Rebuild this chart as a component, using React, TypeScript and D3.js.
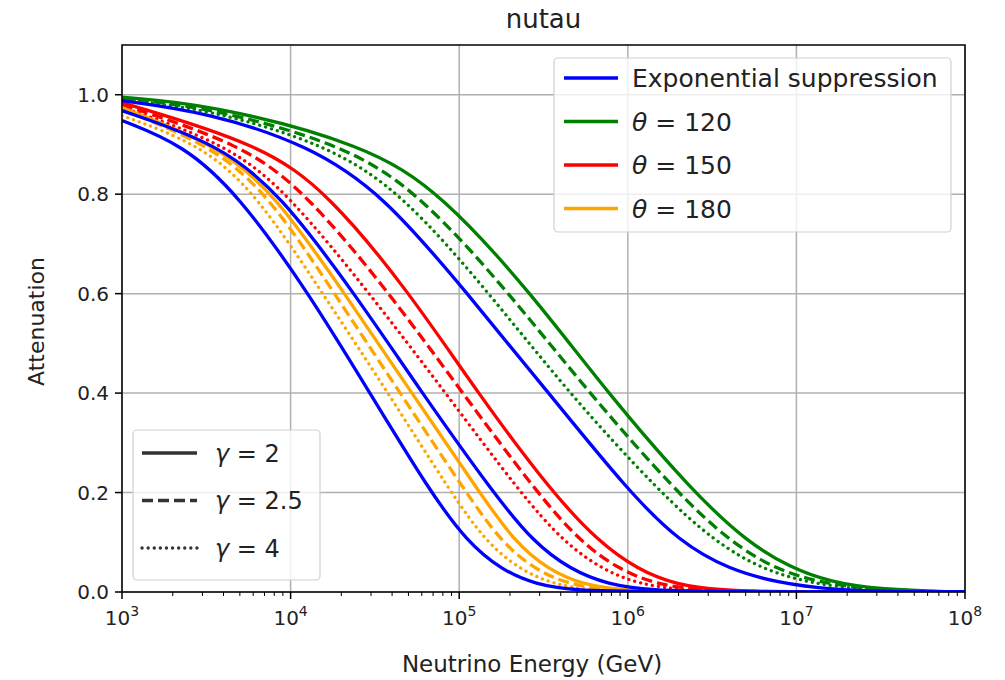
import React from 'react'
import * as d3 from 'd3'

// readings: [log10(E / GeV), attenuation]
const expSup180 = [[3, 0.948], [3.36, 0.9], [3.69, 0.8], [4.11, 0.6], [4.47, 0.4], [4.83, 0.2], [5.05, 0.1], [5.25, 0.045], [5.45, 0.015], [5.7, 0.003], [6.0, 0], [8, 0]]
const expSup150 = [[3, 0.968], [3.58, 0.9], [3.94, 0.8], [4.38, 0.6], [4.78, 0.4], [5.2, 0.2], [5.44, 0.1], [5.66, 0.045], [5.88, 0.015], [6.15, 0.003], [6.5, 0], [8, 0]]
const expSup120 = [[3, 0.988], [3.5, 0.965], [4.1, 0.9], [4.55, 0.8], [5.05, 0.6], [5.53, 0.4], [6.01, 0.2], [6.31, 0.1], [6.6, 0.045], [6.9, 0.018], [7.2, 0.005], [7.6, 0], [8, 0]]

const th120g2 = [[3, 0.995], [3.5, 0.982], [4.45, 0.9], [4.9, 0.8], [5.43, 0.6], [5.88, 0.4], [6.39, 0.2], [6.71, 0.1], [6.96, 0.05], [7.2, 0.02], [7.5, 0.005], [7.95, 0], [8, 0]]
const th120g25 = [[3, 0.992], [3.5, 0.976], [4.32, 0.9], [4.77, 0.8], [5.3, 0.6], [5.77, 0.4], [6.29, 0.2], [6.61, 0.1], [6.88, 0.045], [7.15, 0.018], [7.45, 0.005], [7.9, 0], [8, 0]]
const th120g4 = [[3, 0.99], [3.5, 0.972], [4.22, 0.9], [4.67, 0.8], [5.18, 0.6], [5.65, 0.4], [6.19, 0.2], [6.52, 0.1], [6.8, 0.045], [7.08, 0.018], [7.38, 0.005], [7.8, 0], [8, 0]]

const th150g2 = [[3, 0.984], [3.83, 0.9], [4.23, 0.8], [4.71, 0.6], [5.11, 0.4], [5.55, 0.2], [5.83, 0.1], [6.06, 0.045], [6.28, 0.015], [6.56, 0.003], [6.9, 0], [8, 0]]
const th150g25 = [[3, 0.98], [3.72, 0.9], [4.1, 0.8], [4.59, 0.6], [5.02, 0.4], [5.46, 0.2], [5.72, 0.1], [5.95, 0.045], [6.17, 0.015], [6.45, 0.003], [6.8, 0], [8, 0]]
const th150g4 = [[3, 0.975], [3.63, 0.9], [3.99, 0.8], [4.47, 0.6], [4.92, 0.4], [5.36, 0.2], [5.62, 0.1], [5.85, 0.045], [6.07, 0.015], [6.35, 0.003], [6.7, 0], [8, 0]]

const th180g2 = [[3, 0.974], [3.56, 0.9], [3.91, 0.8], [4.32, 0.6], [4.72, 0.4], [5.12, 0.2], [5.33, 0.1], [5.53, 0.045], [5.73, 0.015], [5.98, 0.003], [6.3, 0], [8, 0]]
const th180g25 = [[3, 0.97], [3.52, 0.9], [3.87, 0.8], [4.26, 0.6], [4.65, 0.4], [5.04, 0.2], [5.25, 0.1], [5.45, 0.045], [5.65, 0.015], [5.9, 0.003], [6.2, 0], [8, 0]]
const th180g4 = [[3, 0.958], [3.47, 0.9], [3.8, 0.8], [4.19, 0.6], [4.58, 0.4], [4.95, 0.2], [5.16, 0.1], [5.36, 0.045], [5.56, 0.015], [5.8, 0.003], [6.1, 0], [8, 0]]

const xTickExps = [3, 4, 5, 6, 7, 8]
const yTicks = [0, 0.2, 0.4, 0.6, 0.8, 1.0]
const thetaLabels = ['120', '150', '180']
const gammaLabels = ['2', '2.5', '4']

const colors = { exp: '#0000ff', t120: '#008000', t150: '#ff0000', t180: '#ffa500' }
const dashes = { solid: null, dashed: '11,5', dotted: '0.1,6' }

const series = [
  { data: th120g2, color: colors.t120, dash: dashes.solid },
  { data: th120g25, color: colors.t120, dash: dashes.dashed },
  { data: th120g4, color: colors.t120, dash: dashes.dotted },
  { data: th150g2, color: colors.t150, dash: dashes.solid },
  { data: th150g25, color: colors.t150, dash: dashes.dashed },
  { data: th150g4, color: colors.t150, dash: dashes.dotted },
  { data: th180g2, color: colors.t180, dash: dashes.solid },
  { data: th180g25, color: colors.t180, dash: dashes.dashed },
  { data: th180g4, color: colors.t180, dash: dashes.dotted },
  { data: expSup120, color: colors.exp, dash: dashes.solid },
  { data: expSup150, color: colors.exp, dash: dashes.solid },
  { data: expSup180, color: colors.exp, dash: dashes.solid },
]

const W = 1005, H = 680
const m = { left: 122, right: 965, top: 45, bottom: 592 }
const font = 'DejaVu Sans, sans-serif'
const LW = 3.3

export default function App() {
  const x = d3.scaleLog().domain([1e3, 1e8]).range([m.left, m.right])
  const y = d3.scaleLinear().domain([0, 1.1]).range([m.bottom, m.top])

  const line = d3.line<number[]>()
    .x(d => x(10 ** d[0]))
    .y(d => y(d[1]))
    .curve(d3.curveBasis)

  const minorTicks: number[] = []
  for (let e = 3; e < 8; e++) for (let k = 2; k <= 9; k++) minorTicks.push(k * 10 ** e)

  const legend1 = [
    { label: 'Exponential suppression', color: colors.exp },
    ...thetaLabels.map((t, i) => ({ label: t, color: [colors.t120, colors.t150, colors.t180][i], theta: true })),
  ]

  return (
    <svg width={W} height={H} style={{ position: 'absolute', left: 0, top: 0 }} fontFamily={font}>
      <defs>
        <clipPath id="plot">
          <rect x={m.left} y={m.top} width={m.right - m.left} height={m.bottom - m.top} />
        </clipPath>
      </defs>
      <rect width={W} height={H} fill="#fff" />

      {/* grid */}
      {xTickExps.map(e => (
        <line key={'gx' + e} x1={x(10 ** e)} x2={x(10 ** e)} y1={m.top} y2={m.bottom} stroke="#b0b0b0" strokeWidth={1.5} />
      ))}
      {yTicks.map(v => (
        <line key={'gy' + v} x1={m.left} x2={m.right} y1={y(v)} y2={y(v)} stroke="#b0b0b0" strokeWidth={1.5} />
      ))}

      {/* curves */}
      <g clipPath="url(#plot)">
        {series.map((s, i) => (
          <path key={i} d={line(s.data) || ''} fill="none" stroke={s.color} strokeWidth={LW}
            strokeDasharray={s.dash || undefined} strokeLinecap={s.dash === dashes.dotted ? 'round' : 'butt'} />
        ))}
      </g>

      {/* frame */}
      <rect x={m.left} y={m.top} width={m.right - m.left} height={m.bottom - m.top} fill="none" stroke="#000" strokeWidth={1.5} />

      {/* x ticks */}
      {xTickExps.map(e => (
        <g key={'xt' + e} transform={`translate(${x(10 ** e)},${m.bottom})`}>
          <line y2={7} stroke="#000" strokeWidth={1.5} />
          <text y={33} textAnchor="middle" fontSize={20} fill="#222">
            10<tspan dy={-9} fontSize={14}>{e}</tspan>
          </text>
        </g>
      ))}
      {minorTicks.map(v => (
        <line key={'mx' + v} x1={x(v)} x2={x(v)} y1={m.bottom} y2={m.bottom + 4} stroke="#000" strokeWidth={1} />
      ))}

      {/* y ticks */}
      {yTicks.map(v => (
        <g key={'yt' + v} transform={`translate(${m.left},${y(v)})`}>
          <line x2={-7} stroke="#000" strokeWidth={1.5} />
          <text x={-13} dy="0.35em" textAnchor="end" fontSize={20} fill="#222">{v.toFixed(1)}</text>
        </g>
      ))}

      {/* labels */}
      <text x={(m.left + m.right) / 2} y={28} textAnchor="middle" fontSize={26} fill="#222">nutau</text>
      <text x={532} y={672} textAnchor="middle" fontSize={23} fill="#222">Neutrino Energy (GeV)</text>
      <text transform={`translate(44,${(m.top + m.bottom) / 2 + 3}) rotate(-90)`} textAnchor="middle" fontSize={22} fill="#222">Attenuation</text>

      {/* legend: models */}
      <rect x={554} y={58} width={397} height={174} rx={4} fill="#fff" fillOpacity={0.8} stroke="#d0d0d0" strokeWidth={1.2} />
      {legend1.map((d, i) => {
        const ly = 78 + i * 43.5
        return (
          <g key={'l1' + i}>
            <line x1={564} x2={618} y1={ly} y2={ly} stroke={d.color} strokeWidth={LW} />
            <text x={632} y={ly} dy="0.36em" fontSize={25} fill="#222">
              {d.theta ? (<><tspan fontStyle="italic">θ</tspan> = {d.label}</>) : d.label}
            </text>
          </g>
        )
      })}

      {/* legend: spectral index */}
      <rect x={133} y={430} width={187} height={150} rx={4} fill="#fff" fillOpacity={0.8} stroke="#d0d0d0" strokeWidth={1.2} />
      {gammaLabels.map((g, i) => {
        const ly = 453 + i * 47.5
        const dash = [dashes.solid, dashes.dashed, dashes.dotted][i]
        return (
          <g key={'l2' + i}>
            <line x1={142} x2={197} y1={ly} y2={ly} stroke="#333" strokeWidth={LW}
              strokeDasharray={dash || undefined} strokeLinecap={dash === dashes.dotted ? 'round' : 'butt'} />
            <text x={215} y={ly} dy="0.36em" fontSize={24} fill="#222">
              <tspan fontStyle="italic">γ</tspan> = {g}
            </text>
          </g>
        )
      })}
    </svg>
  )
}
